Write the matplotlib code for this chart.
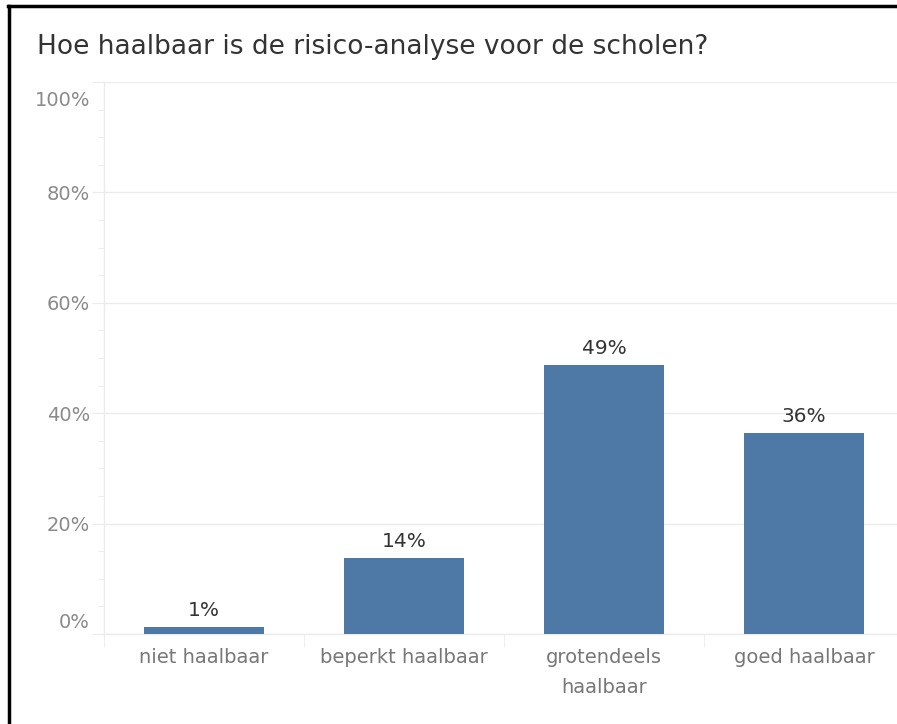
import matplotlib
matplotlib.use("Agg")
import matplotlib.pyplot as plt
import matplotlib.transforms as mtransforms
from matplotlib.ticker import MultipleLocator

categories = ["niet haalbaar", "beperkt haalbaar", "grotendeels\nhaalbaar", "goed haalbaar"]
values = [1.3, 13.8, 48.8, 36.4]
value_labels = ["1%", "14%", "49%", "36%"]
ytick_values = [0, 20, 40, 60, 80, 100]
ytick_labels = ["0%", "20%", "40%", "60%", "80%", "100%"]
title = "Hoe haalbaar is de risico-analyse voor de scholen?"

plt.rcParams['font.family'] = ['DejaVu Sans']

W, H = 897, 724
fig = plt.figure(figsize=(W / 100, H / 100), dpi=100)

def fx(px):
    return px / W

def fy(py):
    return 1 - py / H

ax_left, ax_right = 104, 904
ax_top, ax_bottom = 82, 634
ax = fig.add_axes([fx(ax_left), fy(ax_bottom), fx(ax_right - ax_left), (ax_bottom - ax_top) / H])

bar_color = "#4e79a7"
x = list(range(len(categories)))
bars = ax.bar(x, values, width=0.6, color=bar_color, zorder=3)
for xi, v, lab in zip(x, values, value_labels):
    ax.annotate(lab, (xi, v), xytext=(0, 5), textcoords="offset points",
                ha="center", va="bottom", fontsize=14.5, color="#333333")

ax.set_xlim(-0.5, len(categories) - 0.5)
ax.set_ylim(0, 100)

grid_color = "#ebebeb"
ax.set_yticks(ytick_values)
ax.set_yticklabels(ytick_labels)
ax.yaxis.set_minor_locator(MultipleLocator(5))
ax.yaxis.grid(True, color=grid_color, linewidth=1, zorder=0)
ax.tick_params(axis="y", which="major", length=9, color=grid_color, labelsize=14,
               labelcolor="#8a8a8a", pad=1)
ax.tick_params(axis="y", which="minor", length=4, color=grid_color)

ax.set_xticks(x)
ax.set_xticklabels(categories)
ax.set_xticks([i - 0.5 for i in range(len(categories) + 1)], minor=True)
ax.tick_params(axis="x", which="major", length=0, labelsize=14, labelcolor="#777777", pad=10)
ax.tick_params(axis="x", which="minor", length=9, color=grid_color)
for lbl in ax.get_xticklabels():
    lbl.set_linespacing(1.72)

for side in ["top", "right"]:
    ax.spines[side].set_visible(False)
for side in ["left", "bottom"]:
    ax.spines[side].set_color(grid_color)
    ax.spines[side].set_linewidth(1)

# Tableau-style inset of first/last y labels
ylabels = ax.get_yticklabels()
ylabels[0].set_transform(ylabels[0].get_transform() +
                         mtransforms.ScaledTranslation(0, 14 / 100, fig.dpi_scale_trans))
ylabels[-1].set_transform(ylabels[-1].get_transform() +
                          mtransforms.ScaledTranslation(0, -16 / 100, fig.dpi_scale_trans))

fig.text(fx(37), fy(47), title, fontsize=19, color="#333333", ha="left", va="center")

# figure border (left and top)
fig.add_artist(plt.Line2D([fx(9), fx(9)], [fy(6), 0], color="black", linewidth=2.5,
                          transform=fig.transFigure))
fig.add_artist(plt.Line2D([fx(8), 1], [fy(6), fy(6)], color="black", linewidth=2.5,
                          transform=fig.transFigure))

fig.savefig("out.png", dpi=100)
